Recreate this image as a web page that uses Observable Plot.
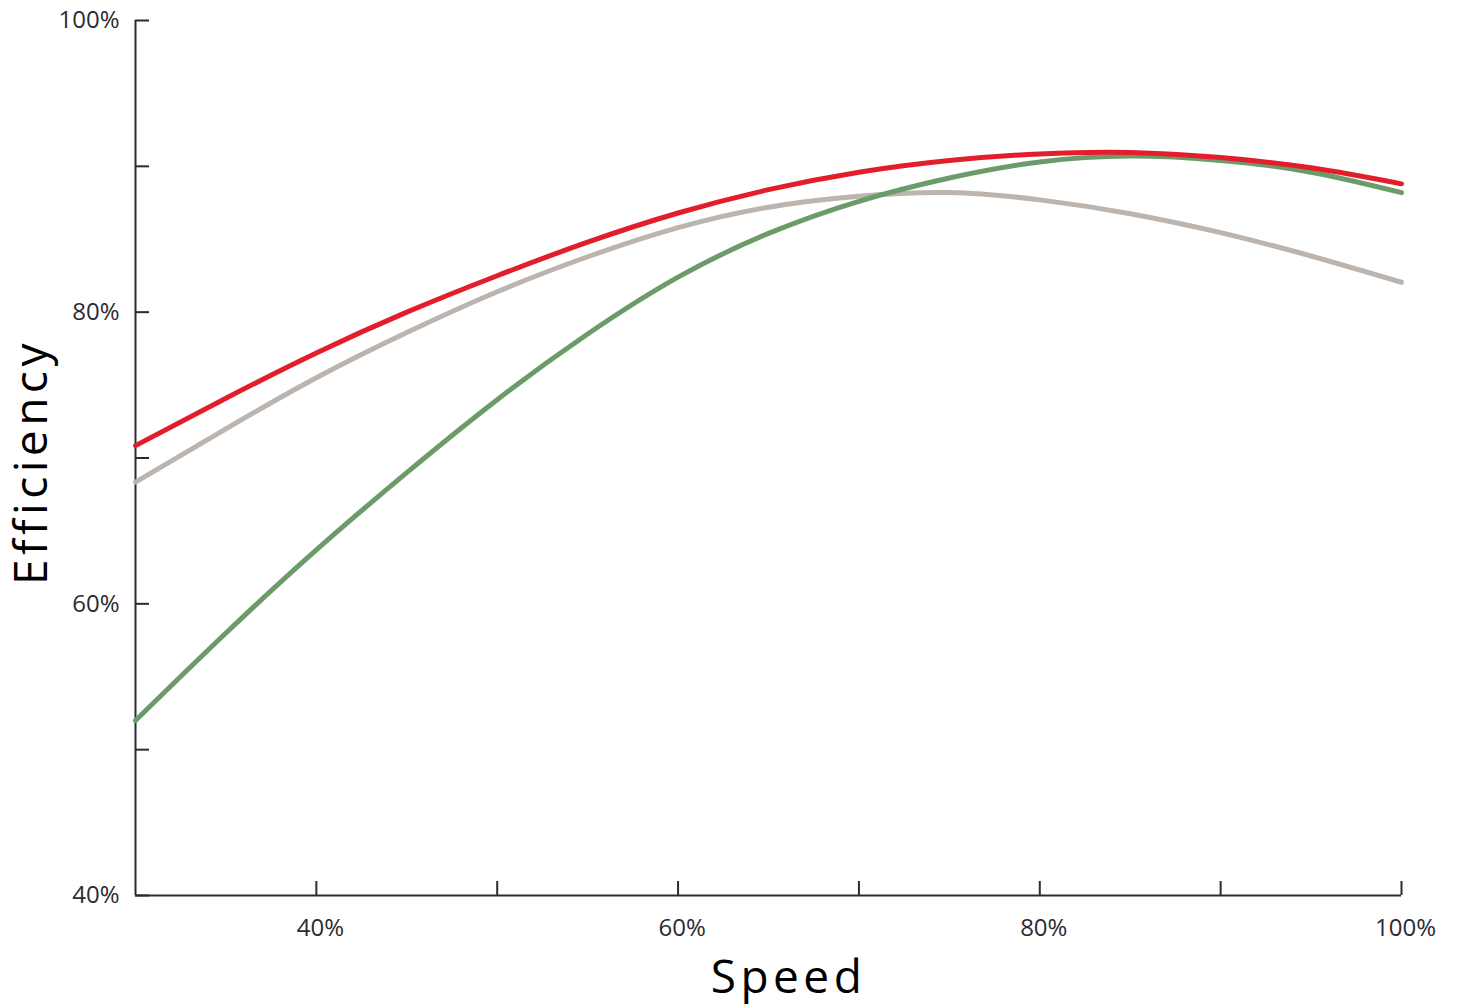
<!DOCTYPE html>
<html>
<head>
<meta charset="utf-8">
<script src="https://cdn.jsdelivr.net/npm/d3@7"></script>
<script src="https://cdn.jsdelivr.net/npm/@observablehq/plot@0.6"></script>
<style>
  html, body { margin: 0; padding: 0; background: #fff; }
  #chart svg { display: block; }
  .title text { letter-spacing: 4.5px; }
</style>
</head>
<body>
<div id="chart"></div>
<script>
// Speed (% of rated) sample points
const speed = [30, 35, 40, 45, 50, 55, 60, 65, 70, 75, 80, 85, 90, 95, 100];
// Efficiency (%)
const redSeries   = [70.85, 74.1, 77.2, 80.0, 82.5, 84.8, 86.8, 88.4, 89.6, 90.4, 90.85, 90.95, 90.6, 89.9, 88.8];
const graySeries  = [68.35, 72.0, 75.5, 78.6, 81.4, 83.8, 85.8, 87.2, 87.95, 88.2, 87.7, 86.75, 85.45, 83.85, 82.05];
const greenSeries = [52.0, 58.0, 63.7, 69.0, 74.0, 78.5, 82.4, 85.4, 87.6, 89.2, 90.3, 90.7, 90.4, 89.6, 88.2];

const seriesNames  = ["Series B", "Series C", "Series A"];
const seriesColors = ["#bcb4af", "#6c9b6a", "#e31e2c"];
const seriesValues = [graySeries, greenSeries, redSeries];

const xTicks  = [40, 50, 60, 70, 80, 90, 100];
const xLabels = [40, 60, 80, 100];
const yTicks  = [40, 50, 60, 70, 80, 90, 100];
const yLabels = [40, 60, 80, 100];

const rows = seriesNames.flatMap((name, k) =>
  speed.map((s, i) => ({ name, speed: s, efficiency: seriesValues[k][i] }))
);

const ink = "#2b2b33";
const pct = d => d + "%";

const chart = Plot.plot({
  width: 1461,
  height: 1008,
  marginLeft: 135,
  marginRight: 60,
  marginTop: 20,
  marginBottom: 113,
  style: { fontFamily: "'Open Sans', sans-serif", background: "#fff", color: ink },
  x: { domain: [30, 100], label: null },
  y: { domain: [40, 100], label: null },
  color: { domain: seriesNames, range: seriesColors },
  marks: [
    Plot.ruleY([40], { stroke: ink, strokeWidth: 2 }),
    Plot.ruleX([30], { stroke: ink, strokeWidth: 2 }),
    Plot.axisX(xTicks, { tickSize: -14, tickFormat: () => "", stroke: ink, strokeWidth: 2, label: null }),
    Plot.axisY(yTicks, { tickSize: -14, tickFormat: () => "", stroke: ink, strokeWidth: 2, label: null }),
    Plot.axisX(xLabels, { tickSize: 0, tickPadding: 23, tickFormat: pct, fontSize: 24, dx: 4, fill: ink, label: null }),
    Plot.axisY(yLabels, { tickSize: 0, tickPadding: 16, tickFormat: pct, fontSize: 24, fill: ink, label: null }),
    Plot.line(rows, {
      x: "speed", y: "efficiency", z: "name", stroke: "name",
      strokeWidth: 5, curve: "natural"
    }),
    Plot.text(["Speed"], {
      frameAnchor: "bottom", dy: 83, dx: 20, fontSize: 46, fill: "#000",
      textAnchor: "middle", lineAnchor: "middle", className: "title"
    }),
    Plot.text(["Efficiency"], {
      frameAnchor: "left", rotate: -90, dx: -103, dy: 4, fontSize: 46, fill: "#000",
      textAnchor: "middle", lineAnchor: "middle", className: "title"
    })
  ]
});

document.getElementById("chart").append(chart);
</script>
</body>
</html>
